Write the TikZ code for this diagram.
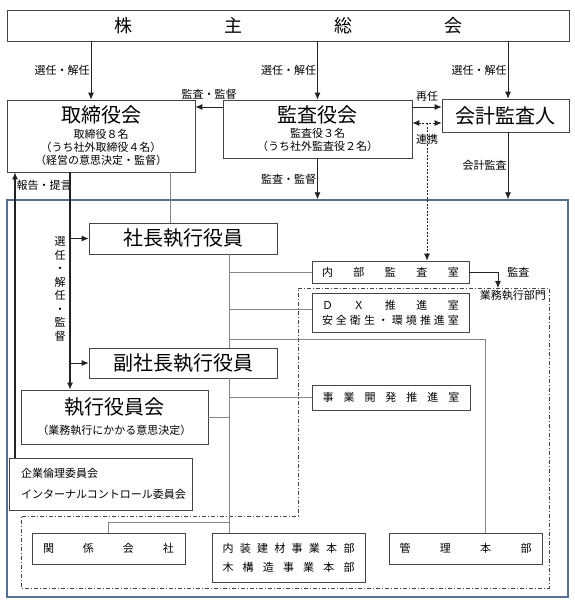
\documentclass[tikz,border=0pt]{standalone}
\usepackage{fontspec}
\setmainfont{Noto Sans CJK JP}
\usetikzlibrary{arrows.meta, positioning}
\definecolor{framecol}{HTML}{56718F}
\definecolor{boxcol}{HTML}{454545}
\definecolor{linecol}{HTML}{858585}
\definecolor{darkline}{HTML}{222222}
\newcommand{\bigj}{\fontsize{20}{22}\selectfont}
\newcommand{\smj}{\fontsize{11}{13}\selectfont}

\begin{document}
\begin{tikzpicture}[x=1pt, y=-1pt,
    box/.style={draw=boxcol, line width=0.7pt, fill=white, rectangle, inner sep=0pt, align=center, font=\smj},
    arr/.style={-{Latex[length=7pt, width=6pt]}, line width=0.8pt, draw=darkline},
    conn/.style={draw=linecol, line width=0.8pt},
    lbl/.style={font=\smj, inner sep=1pt}]
    \useasboundingbox (0,0) rectangle (575,600);

    \node[draw=framecol, line width=1.4pt, rectangle, minimum width=561pt, minimum height=397pt] (frame) at (287.5,398.5) {};
    \draw[draw=boxcol, line width=0.7pt, dash pattern=on 4pt off 2pt on 1pt off 2pt] (298,288) -- (549,288) -- (549,588) -- (21,588) -- (21,516) -- (298,516) -- cycle;
    \node[lbl, anchor=north east] (gyomu) at (547,289) {業務執行部門};

    \node[box, minimum width=562pt, minimum height=31pt] (soukai) at (288,25.5) {\fontsize{18}{18}\selectfont\makebox[348pt]{株\hfill 主\hfill 総\hfill 会}};
    \node[box, minimum width=188pt, minimum height=72pt] (torishimari) at (101,136) {{\bigj 取締役会}\\[3pt]取締役８名\\（うち社外取締役４名）\\（経営の意思決定・監督）};
    \node[box, minimum width=189pt, minimum height=58pt] (kansayaku) at (317.5,129) {{\bigj 監査役会}\\[2pt]監査役３名\\（うち社外監査役２名）};
    \node[box, minimum width=127pt, minimum height=33pt] (kaikei) at (505.5,115.5) {\bigj 会計監査人};

    \node[box, minimum width=188pt, minimum height=31pt] (shachou) at (183,238.5) {\bigj 社長執行役員};
    \node[box, minimum width=188pt, minimum height=30pt] (fukushachou) at (183,363) {\bigj 副社長執行役員};
    \node[box, minimum width=187pt, minimum height=54pt] (shikkou) at (114.5,417) {{\bigj 執行役員会}\\[7pt]（業務執行にかかる意思決定）};
    \node[box, align=left, text width=159pt, inner xsep=12pt, minimum height=52pt] (rinri) at (100.5,484) {企業倫理委員会\\[8pt]インターナルコントロール委員会};

    \node[box, minimum width=157pt, minimum height=22pt] (naibu) at (390.5,272) {\makebox[137pt]{内\hfill 部\hfill 監\hfill 査\hfill 室}};
    \node[box, minimum width=157pt, minimum height=39pt] (dx) at (390.5,312.5) {\makebox[137pt]{Ｄ\hfill Ｘ\hfill 推\hfill 進\hfill 室}\\[2pt]\makebox[137pt]{安\hfill 全\hfill 衛\hfill 生\hfill ・\hfill 環\hfill 境\hfill 推\hfill 進\hfill 室}};
    \node[box, minimum width=158pt, minimum height=25pt] (jigyo) at (391,397.5) {\makebox[137pt]{事\hfill 業\hfill 開\hfill 発\hfill 推\hfill 進\hfill 室}};

    \node[box, minimum width=153pt, minimum height=31pt] (kankei) at (108.5,548.5) {\makebox[131pt]{関\hfill 係\hfill 会\hfill 社}};
    \node[box, minimum width=153pt, minimum height=49pt] (naisou) at (288.5,557.5) {\makebox[132pt]{内\hfill 装\hfill 建\hfill 材\hfill 事\hfill 業\hfill 本\hfill 部}\\[6pt]\makebox[132pt]{木\hfill 構\hfill 造\hfill 事\hfill 業\hfill 本\hfill 部}};
    \node[box, minimum width=153pt, minimum height=31pt] (kanri) at (465.5,548.5) {\makebox[132pt]{管\hfill 理\hfill 本\hfill 部}};

    \coordinate (xa) at (91,0);
    \coordinate (xc) at (508,0);
    \coordinate (ya) at (0,107);
    \coordinate (yd) at (0,123);
    \coordinate (xr) at (427,0);
    \coordinate (xh) at (15,0);
    \coordinate (xk) at (70,0);
    \coordinate (xs) at (170,0);
    \coordinate (xv) at (229,0);
    \coordinate (xm) at (485,0);
    \coordinate (yx) at (0,309);
    \coordinate (yg) at (0,339);
    \coordinate (yk) at (0,522);
    \coordinate (gtop) at (498,288);

    \draw[arr] (soukai.south -| xa) -- (torishimari.north -| xa) node[lbl, midway, left] {選任・解任};
    \draw[arr] (soukai.south -| kansayaku) -- (kansayaku.north) node[lbl, midway, left] {選任・解任};
    \draw[arr] (soukai.south -| xc) -- (kaikei.north -| xc) node[lbl, midway, left] {選任・解任};
    \draw[arr] (kansayaku.west |- ya) -- (torishimari.east |- ya) node[lbl, midway, above=6pt] {監査・監督};
    \draw[arr] (kansayaku.east |- ya) -- (kaikei.west |- ya) node[lbl, midway, above=4pt] {再任};
    \draw[arr, {Latex[length=7pt, width=6pt]}-{Latex[length=7pt, width=6pt]}, dash pattern=on 2pt off 1.5pt] (kansayaku.east |- yd) -- (kaikei.west |- yd);
    \draw[arr, dash pattern=on 2pt off 1.5pt] (xr |- yd) -- (naibu.north -| xr);
    \node[lbl] (renkei) at (427,139) {連携};
    \draw[arr] (kansayaku.south) -- (kansayaku.south |- frame.north) node[lbl, midway, left] {監査・監督};
    \draw[arr] (kaikei.south -| xc) -- (frame.north -| xc) node[lbl, midway, left] {会計監査};

    \draw[arr, line width=1.2pt] (rinri.north -| xh) -- (torishimari.south -| xh) node[lbl, pos=0.955, right] {報告・提言};
    \draw[arr, line width=1.2pt] (torishimari.south -| xk) -- (shikkou.north -| xk);
    \draw[arr] (xk |- shachou.west) -- (shachou.west);
    \draw[arr] (xk |- fukushachou.west) -- (fukushachou.west);
    \node[lbl, align=center, font=\fontsize{11}{13.5}\selectfont] (senin) at (60,289) {選\\任\\・\\解\\任\\・\\監\\督};

    \draw[conn] (torishimari.south -| xs) -- (shachou.north -| xs);
    \draw[conn] (shachou.south -| xv) -- (fukushachou.north -| xv);
    \draw[conn] (fukushachou.south -| xv) -- (naisou.north -| xv);
    \draw[conn] (xv |- naibu.west) -- (naibu.west);
    \draw[conn] (xv |- yx) -- (dx.west |- yx);
    \draw[conn] (xv |- yg) -| (kanri.north -| xm);
    \draw[conn] (xv |- jigyo.west) -- (jigyo.west);
    \draw[conn] (shikkou.east) -- (xv |- shikkou.east);
    \draw[conn] (xv |- yk) -| (kankei.north);
    \draw[arr] (naibu.east) -| (gtop) node[lbl, pos=0.5, right=8pt] {監査};
\end{tikzpicture}
\end{document}
